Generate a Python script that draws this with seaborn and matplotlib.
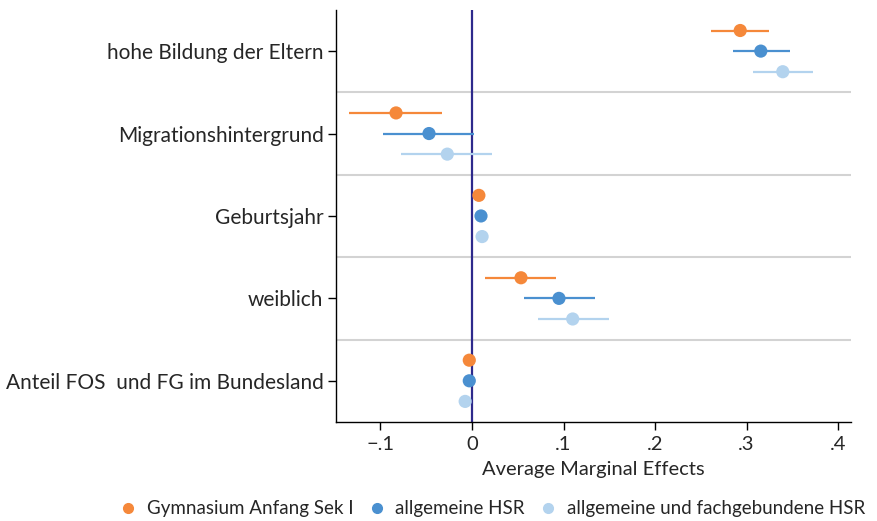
import numpy as np
import pandas as pd
import seaborn as sns
import matplotlib.pyplot as plt

# Daten
kategorien = ['hohe Bildung der Eltern', 'Migrationshintergrund', 'Geburtsjahr',
              'weiblich', 'Anteil FOS  und FG im Bundesland']
serien = ['Gymnasium Anfang Sek I', 'allgemeine HSR', 'allgemeine und fachgebundene HSR']

est_gym = [0.293, -0.083, 0.0075, 0.0535, -0.003]
lo_gym = [0.261, -0.134, 0.0055, 0.014, -0.005]
hi_gym = [0.325, -0.033, 0.0095, 0.092, -0.001]

est_hsr = [0.3155, -0.047, 0.0098, 0.095, -0.003]
lo_hsr = [0.285, -0.097, 0.0078, 0.057, -0.005]
hi_hsr = [0.347, 0.002, 0.0118, 0.134, -0.001]

est_fg = [0.3395, -0.027, 0.011, 0.110, -0.0075]
lo_fg = [0.307, -0.078, 0.009, 0.072, -0.0095]
hi_fg = [0.373, 0.022, 0.013, 0.150, -0.0055]

farben = ['#f5883a', '#4a90d0', '#b3d3ee']

# Long-Format DataFrame
rows = []
for s, (est, lo, hi) in enumerate([(est_gym, lo_gym, hi_gym),
                                    (est_hsr, lo_hsr, hi_hsr),
                                    (est_fg, lo_fg, hi_fg)]):
    for i, k in enumerate(kategorien):
        rows.append({'kategorie': k, 'serie': serien[s], 'y': i + (s - 1) * 0.25,
                     'est': est[i], 'lo': lo[i], 'hi': hi[i]})
df = pd.DataFrame(rows)

sns.set_style('white')
plt.rcParams['font.family'] = ['Lato', 'DejaVu Sans']

fig = plt.figure(figsize=(8.78, 5.21), dpi=100)
ax = fig.add_axes([0.3827, 0.19, 0.5865, 0.791])

# Trennlinien zwischen Kategorien
for b in [0.5, 1.5, 2.5, 3.5]:
    ax.axhline(b, color='#d3d3d3', lw=1.5, zorder=0)

# Konfidenzintervalle
for s, serie in enumerate(serien):
    d = df[df['serie'] == serie]
    ax.hlines(d['y'], d['lo'], d['hi'], color=farben[s], lw=1.6, zorder=2)

sns.scatterplot(data=df, x='est', y='y', hue='serie', palette=farben,
                s=90, edgecolor='none', ax=ax, zorder=3, legend=False)

ax.axvline(0, color='#2e2a8c', lw=1.6, zorder=1)

ax.set_ylim(4.5, -0.5)
ax.set_xlim(-0.1486, 0.414)
ax.set_yticks(range(len(kategorien)))
ax.set_yticklabels(kategorien, fontsize=15)
xt = [-0.1, 0, 0.1, 0.2, 0.3, 0.4]
ax.set_xticks(xt)
ax.set_xticklabels(['\u2212.1', '0', '.1', '.2', '.3', '.4'], fontsize=14.5)
ax.set_xlabel('Average Marginal Effects', fontsize=14.5, labelpad=6)
ax.set_ylabel('')
ax.tick_params(axis='both', direction='out', length=6, width=1, color='black',
               left=True, bottom=True, pad=3)
ax.tick_params(axis='x', pad=4)
for sp in ['top', 'right']:
    ax.spines[sp].set_visible(False)
for sp in ['left', 'bottom']:
    ax.spines[sp].set_color('black')
    ax.spines[sp].set_linewidth(1)

handles = [plt.Line2D([], [], marker='o', ls='', color=c, markersize=7) for c in farben]
fig.legend(handles, serien, loc='lower center', bbox_to_anchor=(0.555, -0.025), ncol=3,
           frameon=False, fontsize=13.5, handletextpad=0.0, columnspacing=0.25)

fig.savefig('out.png', dpi=100)
